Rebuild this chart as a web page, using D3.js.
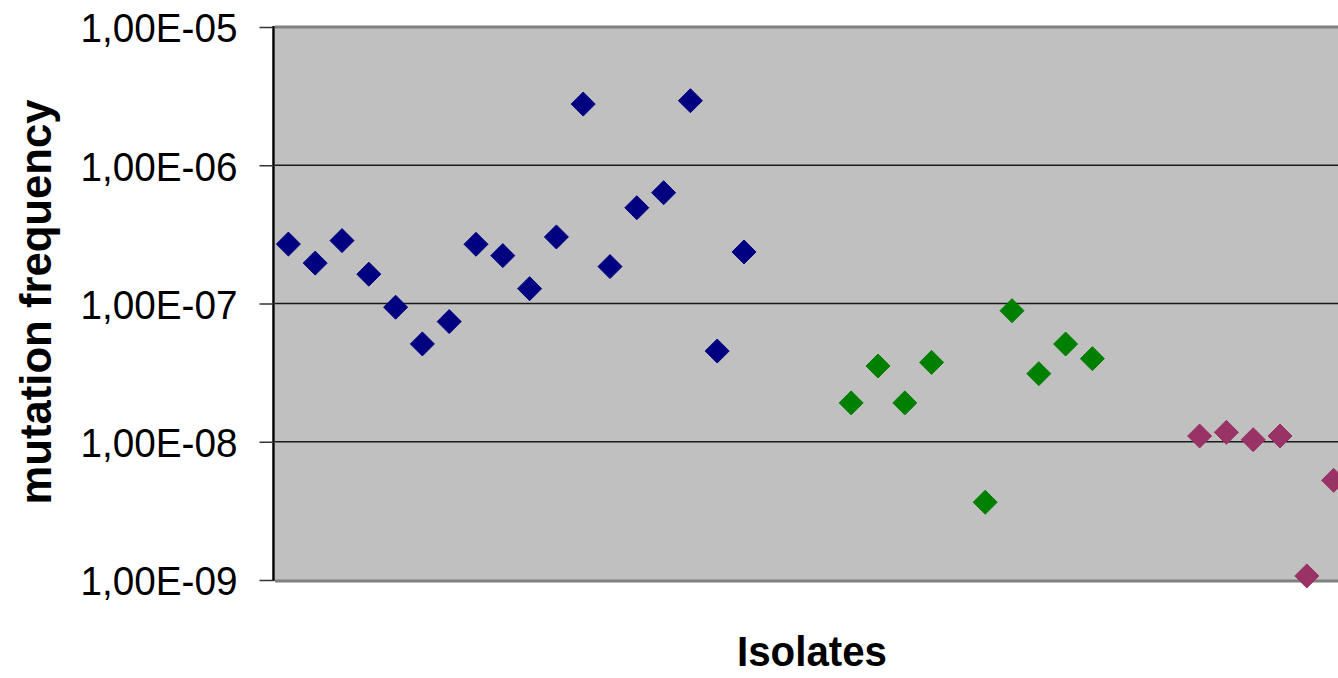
<!DOCTYPE html>
<html>
<head>
<meta charset="utf-8">
<script src="https://cdn.jsdelivr.net/npm/d3@7"></script>
<style>
  body { margin: 0; background: #fff; overflow: hidden; }
  svg { display: block; }
</style>
</head>
<body>
<div id="chart"></div>
<script>
;(function () {
  // isolates (category slots along x)
  const categories = d3.range(1, 43)

  // mutation frequencies per group, first value sits in slot `start`
  const groupA = [2.69e-7, 1.96e-7, 2.85e-7, 1.63e-7, 9.4e-8, 5.1e-8, 7.4e-8, 2.68e-7, 2.22e-7,
    1.28e-7, 3.03e-7, 2.77e-6, 1.85e-7, 4.93e-7, 6.33e-7, 2.93e-6, 4.53e-8, 2.36e-7]
  const groupB = [1.91e-8, 3.53e-8, 1.91e-8, 3.75e-8, null, 3.65e-9, 8.87e-8, 3.11e-8, 5.09e-8, 3.99e-8]
  const groupC = [1.1e-8, 1.17e-8, 1.035e-8, 1.1e-8, 1.07e-9, 5.26e-9]

  const yTicks = [1e-5, 1e-6, 1e-7, 1e-8, 1e-9]
  const yTickLabels = ["1,00E-05", "1,00E-06", "1,00E-07", "1,00E-08", "1,00E-09"]

  const series = [
    { values: groupA, start: 1, color: "#000080" },
    { values: groupB, start: 22, color: "#008000" },
    { values: groupC, start: 35, color: "#993366" }
  ]

  const width = 1338
  const height = 678
  const left = 275
  const top = 27
  const bottom = 580
  const slot = 26.8

  const svg = d3.select("#chart").append("svg").attr("width", width).attr("height", height)

  const x = d3.scaleBand()
    .domain(categories)
    .range([left, left + categories.length * slot])

  const y = d3.scaleLog()
    .domain([1e-9, 1e-5])
    .range([bottom, top])

  const right = left + categories.length * slot

  // plot area
  svg.append("rect")
    .attr("x", left)
    .attr("y", top)
    .attr("width", right - left)
    .attr("height", bottom - top)
    .attr("fill", "#c0c0c0")

  // gridlines
  svg.selectAll(".grid")
    .data(yTicks.slice(1, 4))
    .join("line")
    .attr("class", "grid")
    .attr("x1", left)
    .attr("x2", right)
    .attr("y1", d => y(d))
    .attr("y2", d => y(d))
    .attr("stroke", "#1a1a1a")
    .attr("stroke-width", 1.5)

  // gray border top and bottom
  svg.append("line")
    .attr("x1", left).attr("x2", right)
    .attr("y1", top).attr("y2", top)
    .attr("stroke", "#808080").attr("stroke-width", 3)
  svg.append("line")
    .attr("x1", left).attr("x2", right)
    .attr("y1", bottom + 1).attr("y2", bottom + 1)
    .attr("stroke", "#808080").attr("stroke-width", 3)

  // y axis
  const yAxis = d3.axisLeft(y)
    .tickValues(yTicks)
    .tickSize(14)
    .tickFormat((d, i) => yTickLabels[i])

  const ga = svg.append("g")
    .attr("transform", `translate(${left - 1.5},0)`)
    .call(yAxis)

  ga.select(".domain")
    .attr("d", `M0,${top - 1}V${bottom + 1}`)
    .attr("stroke", "#000")
    .attr("stroke-width", 2.5)
  ga.selectAll(".tick line").attr("stroke", "#333").attr("stroke-width", 1.5)
  ga.selectAll(".tick text")
    .attr("x", -36)
    .attr("dy", "0.36em")
    .attr("fill", "#000")
    .style("font-family", "'Liberation Sans', Arial, sans-serif")
    .style("font-size", "41px")
    .attr("textLength", 157)
    .attr("lengthAdjust", "spacingAndGlyphs")

  // diamond markers
  const r = 12
  const diamond = `M0,${-r}L${r},0L0,${r}L${-r},0Z`

  series.forEach(s => {
    const pts = s.values
      .map((v, i) => ({ cat: s.start + i, v }))
      .filter(d => d.v != null)

    svg.append("g")
      .selectAll("path")
      .data(pts)
      .join("path")
      .attr("d", diamond)
      .attr("transform", d => `translate(${x(d.cat) + x.bandwidth() / 2},${y(d.v)})`)
      .attr("fill", s.color)
      .attr("stroke", s.color)
      .attr("stroke-width", 1)
      .attr("stroke-linejoin", "round")
  })

  // axis titles
  svg.append("text")
    .attr("x", 812)
    .attr("y", 666)
    .attr("text-anchor", "middle")
    .style("font-family", "'Liberation Sans', Arial, sans-serif")
    .style("font-weight", "bold")
    .style("font-size", "43px")
    .attr("textLength", 150)
    .attr("lengthAdjust", "spacingAndGlyphs")
    .text("Isolates")

  svg.append("text")
    .attr("transform", "translate(51,302) rotate(-90)")
    .attr("text-anchor", "middle")
    .style("font-family", "'Liberation Sans', Arial, sans-serif")
    .style("font-weight", "bold")
    .style("font-size", "44px")
    .attr("textLength", 405)
    .attr("lengthAdjust", "spacingAndGlyphs")
    .text("mutation frequency")
})()
</script>
</body>
</html>
